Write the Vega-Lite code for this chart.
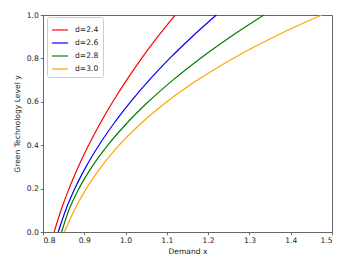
{
  "$schema": "https://vega.github.io/schema/vega-lite/v6.json",
  "autosize": {"type": "none"},
  "padding": {"left": 43, "top": 15, "right": 21, "bottom": 30},
  "width": 289,
  "height": 217,
  "background": "white",
  "config": {
    "font": "DejaVu Sans",
    "view": {"stroke": "#666", "strokeWidth": 1},
    "axis": {
      "grid": false,
      "domainColor": "#666",
      "domainWidth": 1,
      "tickColor": "#444",
      "tickSize": 2.7,
      "tickWidth": 0.8,
      "labelFontSize": 7.6,
      "labelColor": "#222",
      "labelPadding": 2,
      "titleFontSize": 7.6,
      "titleFontWeight": "normal",
      "titleColor": "#222"
    }
  },
  "data": {
    "values": [
      {"x": 0.827, "y": 0.0, "d": "d=2.4"},
      {"x": 0.8436, "y": 0.1, "d": "d=2.4"},
      {"x": 0.863, "y": 0.2, "d": "d=2.4"},
      {"x": 0.8853, "y": 0.3, "d": "d=2.4"},
      {"x": 0.9104, "y": 0.4, "d": "d=2.4"},
      {"x": 0.9383, "y": 0.5, "d": "d=2.4"},
      {"x": 0.969, "y": 0.6, "d": "d=2.4"},
      {"x": 1.0025, "y": 0.7, "d": "d=2.4"},
      {"x": 1.0388, "y": 0.8, "d": "d=2.4"},
      {"x": 1.078, "y": 0.9, "d": "d=2.4"},
      {"x": 1.12, "y": 1.0, "d": "d=2.4"},
      {"x": 0.837, "y": 0.0, "d": "d=2.6"},
      {"x": 0.8548, "y": 0.1, "d": "d=2.6"},
      {"x": 0.8771, "y": 0.2, "d": "d=2.6"},
      {"x": 0.904, "y": 0.3, "d": "d=2.6"},
      {"x": 0.9355, "y": 0.4, "d": "d=2.6"},
      {"x": 0.9715, "y": 0.5, "d": "d=2.6"},
      {"x": 1.0121, "y": 0.6, "d": "d=2.6"},
      {"x": 1.0572, "y": 0.7, "d": "d=2.6"},
      {"x": 1.1069, "y": 0.8, "d": "d=2.6"},
      {"x": 1.1612, "y": 0.9, "d": "d=2.6"},
      {"x": 1.22, "y": 1.0, "d": "d=2.6"},
      {"x": 0.845, "y": 0.0, "d": "d=2.8"},
      {"x": 0.8625, "y": 0.1, "d": "d=2.8"},
      {"x": 0.887, "y": 0.2, "d": "d=2.8"},
      {"x": 0.9185, "y": 0.3, "d": "d=2.8"},
      {"x": 0.957, "y": 0.4, "d": "d=2.8"},
      {"x": 1.0025, "y": 0.5, "d": "d=2.8"},
      {"x": 1.055, "y": 0.6, "d": "d=2.8"},
      {"x": 1.1145, "y": 0.7, "d": "d=2.8"},
      {"x": 1.181, "y": 0.8, "d": "d=2.8"},
      {"x": 1.2545, "y": 0.9, "d": "d=2.8"},
      {"x": 1.335, "y": 1.0, "d": "d=2.8"},
      {"x": 0.852, "y": 0.0, "d": "d=3.0"},
      {"x": 0.8758, "y": 0.1, "d": "d=3.0"},
      {"x": 0.905, "y": 0.2, "d": "d=3.0"},
      {"x": 0.9409, "y": 0.3, "d": "d=3.0"},
      {"x": 0.9846, "y": 0.4, "d": "d=3.0"},
      {"x": 1.0373, "y": 0.5, "d": "d=3.0"},
      {"x": 1.1, "y": 0.6, "d": "d=3.0"},
      {"x": 1.1741, "y": 0.7, "d": "d=3.0"},
      {"x": 1.2603, "y": 0.8, "d": "d=3.0"},
      {"x": 1.3604, "y": 0.9, "d": "d=3.0"},
      {"x": 1.475, "y": 1.0, "d": "d=3.0"}
    ]
  },
  "mark": {"type": "line", "strokeWidth": 1.2, "interpolate": "monotone"},
  "encoding": {
    "x": {
      "field": "x", "type": "quantitative",
      "scale": {"domain": [0.8, 1.5], "nice": false, "zero": false},
      "axis": {"values": [0.8, 0.9, 1.0, 1.1, 1.2, 1.3, 1.4, 1.5], "format": ".1f", "title": "Demand x", "titlePadding": 3}
    },
    "y": {
      "field": "y", "type": "quantitative",
      "scale": {"domain": [0, 1], "nice": false},
      "axis": {"values": [0, 0.2, 0.4, 0.6, 0.8, 1.0], "format": ".1f", "title": "Green Technology Level y", "titlePadding": 5}
    },
    "color": {
      "field": "d", "type": "nominal",
      "scale": {"domain": ["d=2.4", "d=2.6", "d=2.8", "d=3.0"], "range": ["#ff0000", "#0000ff", "#008000", "#ffa500"]},
      "legend": {
        "title": null,
        "orient": "none",
        "legendX": 4,
        "legendY": 2,
        "symbolType": "stroke",
        "symbolSize": 250,
        "symbolStrokeWidth": 1.2,
        "labelFontSize": 7.6,
        "labelColor": "#222",
        "labelOffset": 6,
        "rowPadding": 0,
        "padding": 4,
        "strokeColor": "#ccc",
        "fillColor": "white",
        "cornerRadius": 2
      }
    }
  }
}
